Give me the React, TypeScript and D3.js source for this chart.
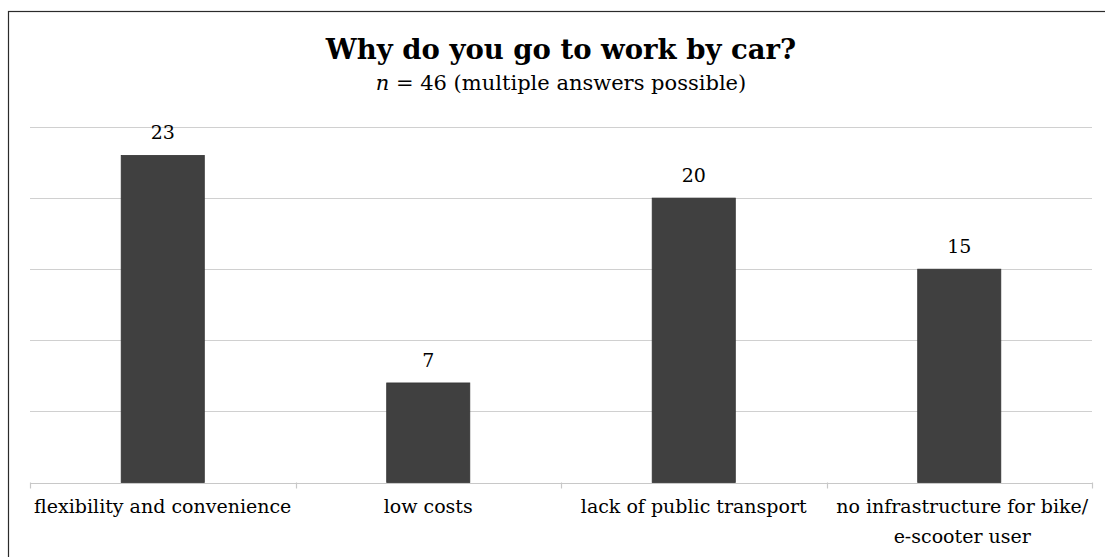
import React from 'react';
import * as d3 from 'd3';

const categories = [
  ['flexibility and convenience'],
  ['low costs'],
  ['lack of public transport'],
  ['no infrastructure for bike/', 'e-scooter user'],
];
const values = [23, 7, 20, 15];
const gridTicks = [0, 5, 10, 15, 20, 25];

const W = 1105;
const H = 557;
const margin = { left: 30, right: 13, top: 127, bottom: 74 };
const font = '"DejaVu Serif", "Liberation Serif", serif';

const App: React.FC = () => {
  const x = d3
    .scaleBand<number>()
    .domain(d3.range(categories.length))
    .range([margin.left, W - margin.right])
    .padding(0);
  const y = d3
    .scaleLinear()
    .domain([0, 25])
    .range([H - margin.bottom - 0.5, margin.top]);

  const barW = x.bandwidth() * 0.313;
  const base = y(0);
  const tickXs = [...d3.range(categories.length).map((i) => x(i)!), W - margin.right];

  return (
    <div style={{ position: 'absolute', left: 0, top: 0 }}>
      <svg width={W} height={H} style={{ display: 'block' }}>
        <rect x={0} y={0} width={W} height={H} fill="#fff" />
        <rect x={8.5} y={11.5} width={W + 50} height={H + 50} fill="none" stroke="#2b2b2b" strokeWidth={1.2} />

        {/* title */}
        <text x={561} y={59} textAnchor="middle" fontFamily={font} fontWeight="bold" fontSize={27.5} fill="#000">
          Why do you go to work by car?
        </text>
        <text x={561} y={90} textAnchor="middle" fontFamily={font} fontSize={21} fill="#000">
          <tspan fontStyle="italic">n</tspan> = 46 (multiple answers possible)
        </text>

        {/* gridlines */}
        {gridTicks.slice(1).map((t) => (
          <line
            key={t}
            x1={margin.left}
            x2={W - margin.right}
            y1={Math.round(y(t)) + 0.5}
            y2={Math.round(y(t)) + 0.5}
            stroke="#d0d0d0"
            strokeWidth={1.2}
          />
        ))}

        {/* bars */}
        {values.map((v, i) => {
          const cx = x(i)! + x.bandwidth() / 2;
          return (
            <g key={i}>
              <rect
                x={cx - barW / 2}
                y={y(v)}
                width={barW}
                height={base - y(v)}
                fill="#404040"
                stroke="#333"
                strokeWidth={0.8}
              />
              <text x={cx} y={y(v) - 16} textAnchor="middle" fontFamily={font} fontSize={19} fill="#000">
                {v}
              </text>
            </g>
          );
        })}

        {/* x axis */}
        <line
          x1={margin.left}
          x2={W - margin.right}
          y1={Math.round(base) + 0.5}
          y2={Math.round(base) + 0.5}
          stroke="#c8c8c8"
          strokeWidth={1.2}
        />
        {tickXs.map((tx, i) => (
          <line
            key={i}
            x1={Math.round(tx) + 0.5}
            x2={Math.round(tx) + 0.5}
            y1={base}
            y2={base + 6}
            stroke="#c8c8c8"
            strokeWidth={1.2}
          />
        ))}
        {categories.map((lines, i) => (
          <text
            key={i}
            x={x(i)! + x.bandwidth() / 2 + (lines.length > 1 ? 3 : 0)}
            y={513}
            textAnchor="middle"
            fontFamily={font}
            fontSize={19}
            fill="#000"
          >
            {lines.map((l, j) => (
              <tspan key={j} x={x(i)! + x.bandwidth() / 2 + (lines.length > 1 ? 3 : 0)} dy={j === 0 ? 0 : 30}>
                {l}
              </tspan>
            ))}
          </text>
        ))}
      </svg>
    </div>
  );
};

export default App;
